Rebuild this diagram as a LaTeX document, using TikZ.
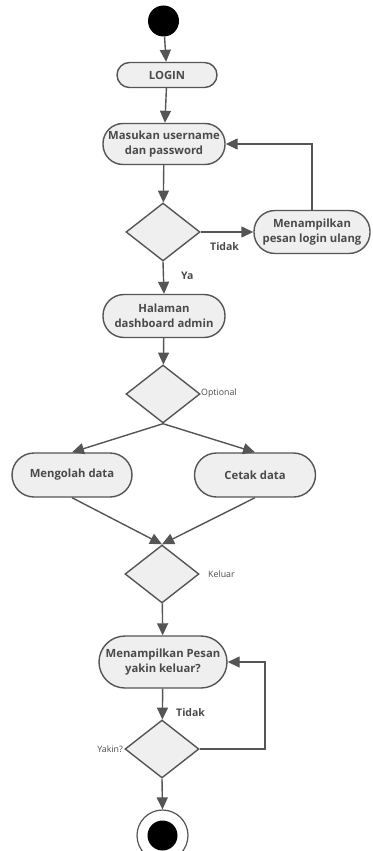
\documentclass[tikz,border=0pt]{standalone}
\usepackage{fontspec}
\setmainfont{Open Sans}
\usetikzlibrary{arrows.meta,shapes.geometric}
\definecolor{ln}{HTML}{555555}
\definecolor{fl}{HTML}{EFEFEF}
\definecolor{tx}{HTML}{4A4A4A}
\tikzset{
  act/.style={draw=ln,line width=1.4pt,fill=fl,text=tx,align=center,inner sep=0pt,
    font=\fontsize{11.3}{15}\selectfont\bfseries},
  dec/.style={draw=ln,line width=1.4pt,fill=fl,diamond,inner sep=0pt,minimum width=74pt,minimum height=58pt},
  conn/.style={draw=ln,line width=1.4pt,-{Triangle[length=12pt,width=11pt]}},
  blab/.style={text=tx,font=\fontsize{10.5}{12}\selectfont\bfseries,inner sep=0pt},
  slab/.style={text=tx,font=\fontsize{8.8}{10}\selectfont,inner sep=0pt}
}
\begin{document}
\begin{tikzpicture}[x=1pt,y=-1pt]
\useasboundingbox (0,0) rectangle (372,851);
\node[circle,fill=black,minimum size=31pt,inner sep=0pt] (start) at (163.5,21) {};
\node[act,minimum width=100pt,minimum height=25pt,rounded corners=12.5pt] (login) at (167,75) {LOGIN};
\node[act,minimum width=122pt,minimum height=41pt,rounded corners=20pt] (masuk) at (164,144) {Masukan username\\dan password};
\node[dec] (d1) at (163,232) {};
\node[act,minimum width=116pt,minimum height=43pt,rounded corners=21pt] (ulang) at (312,232) {Menampilkan\\pesan login ulang};
\node[act,minimum width=122pt,minimum height=43pt,rounded corners=21pt] (dash) at (164,316) {Halaman\\dashboard admin};
\node[dec] (d2) at (163,394) {};
\node[act,minimum width=120pt,minimum height=44pt,rounded corners=22pt] (olah) at (72,475) {Mengolah data};
\node[act,minimum width=121pt,minimum height=44pt,rounded corners=22pt] (cetak) at (255,475) {Cetak data};
\node[dec] (d3) at (162,574) {};
\node[act,minimum width=128pt,minimum height=52pt,rounded corners=26pt] (pesan) at (163,662) {Menampilkan Pesan\\yakin keluar?};
\node[dec] (d4) at (162,749) {};
\node[circle,draw=ln,line width=1.2pt,fill=white,minimum size=51pt,inner sep=0pt] (end) at (162.5,835.5) {};
\node[circle,fill=black,minimum size=30pt,inner sep=0pt] (endin) at (162.5,835.5) {};
% labels
\node[blab,anchor=west] (ltidak1) at (210,247) {Tidak};
\node[blab,anchor=west] (lya) at (181,276) {Ya};
\node[slab,anchor=west] (lopt) at (201,393) {Optional};
\node[slab,anchor=west] (lkel) at (208,574) {Keluar};
\node[blab,anchor=west] (ltidak2) at (176,713) {Tidak};
\node[slab,anchor=east] (lyakin) at (123,749) {Yakin?};
% connectors
\draw[conn] (start) -- (login);
\draw[conn] (login) -- (masuk);
\draw[conn] (masuk) -- (d1);
\draw[conn] (d1.east) -- (ulang.west);
\draw[conn] (ulang.north) |- (masuk.east);
\draw[conn] (d1.south) -- (dash.north);
\draw[conn] (dash) -- (d2);
\draw[conn] (d2.south) -- (olah.north);
\draw[conn] (d2.south) -- (cetak.north);
\draw[conn] (olah.south) -- (d3.north);
\draw[conn] (cetak.south) -- (d3.north);
\draw[conn] (d3) -- (pesan);
\draw[conn] (pesan) -- (d4);
\coordinate (rt) at (265,749);
\draw[conn] (d4.east) -- (rt) |- (pesan.east);
\draw[conn] (d4.south) -- (end.north);
\end{tikzpicture}
\end{document}
